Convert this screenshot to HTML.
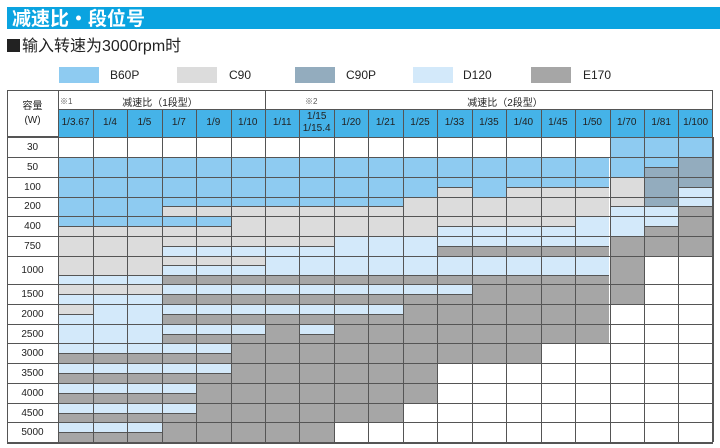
<!DOCTYPE html>
<html><head><meta charset="utf-8">
<style>
body{margin:0;width:720px;height:448px;background:#fff;position:relative;overflow:hidden;font-family:"Liberation Sans","Noto Sans CJK SC",sans-serif;}
.a{position:absolute;box-sizing:border-box;}
.t{position:absolute;font-size:10px;color:#222;text-align:center;}
</style></head><body>
<div class="a" style="left:7px;top:7px;width:713px;height:22px;background:#0aa3e0;"></div>
<div class="a" style="left:12px;top:6px;font-size:19px;font-weight:bold;color:#fff;font-family:'Noto Sans CJK SC',sans-serif;line-height:24px;">减速比・段位号</div>
<div class="a" style="left:7px;top:36px;font-size:16px;color:#222;line-height:22px;font-family:'Liberation Sans','Noto Sans CJK SC',sans-serif;"><span style="display:inline-block;width:13px;height:13px;background:#222;margin-right:2px;vertical-align:-1px"></span>输入转速为3000rpm时</div>
<div id="g"></div>
<script>
var g=document.getElementById('g'),h='';
function box(x,y,w,hh,bg,extra){h+='<div class="a" style="left:'+x+'px;top:'+y+'px;width:'+w+'px;height:'+hh+'px;background:'+bg+';'+(extra||'')+'"></div>';}
function txt(x,y,w,s,fs,extra){h+='<div class="t" style="left:'+x+'px;top:'+y+'px;width:'+w+'px;font-size:'+fs+'px;'+(extra||'')+'">'+s+'</div>';}
var C={B:'#8ecbf1',C:'#dcdcdc',P:'#93acbe',D:'#d3e9fa',E:'#a6a6a6',W:'#fff'};
var lg=[[59,'B','B60P',110],[177,'C','C90',229],[295,'P','C90P',346],[413,'D','D120',463],[531,'E','E170',583]];
lg.forEach(function(l){box(l[0],67,40,16,C[l[1]]);txt(l[3],68,50,l[2],12,'text-align:left;');});
var X0=58.3,CW=34.45;
var cols=['1/3.67','1/4','1/5','1/7','1/9','1/10','1/11','1/15<br>1/15.4','1/20','1/21','1/25','1/33','1/35','1/40','1/45','1/50','1/70','1/81','1/100'];
box(7,90,706,47,'#fff','border:1px solid #555;');
box(X0,109,713-X0,28,'#45b3e8','border-top:1px solid #555;');
for(var i=0;i<19;i++){var x=X0+i*CW;box(x,109,1,28,'#555');txt(x,cols[i].indexOf('<br>')>0?111:117,CW,cols[i],10,'line-height:12px;');}
box(X0,90,1,47,'#555');box(265.3,90,1,19,'#555');
txt(60,96,30,'※1',8,'text-align:left;color:#555;');
txt(100,94,120,'减速比（1段型）',10);
txt(305,96,30,'※2',8,'text-align:left;color:#555;');
txt(440,94,130,'减速比（2段型）',10);
txt(7,100,51,'容量<br>(W)',10,'line-height:14px;');
var rows=[['30',137,156.7],['50',156.7,176.7],['100',176.7,196.7],['200',196.7,216],['400',216,235.7],['750',235.7,255.7],['1000',255.7,284.3],['1500',284.3,304.3],['2000',304.3,324],['2500',324,343.3],['3000',343.3,363],['3500',363,383],['4000',383,402.7],['4500',402.7,422.3],['5000',422.3,442]];
function R(spec){var a=[];spec.forEach(function(s){for(var k=0;k<s[0];k++)a.push(s[1]);});return a;}
var data=[
R([[16,'W'],[3,'B']]),
R([[17,'B'],[1,'BP'],[1,'P']]),
R([[11,'B'],[1,'BC'],[1,'B'],[3,'BC'],[1,'C'],[1,'P'],[1,'PD']]),
R([[3,'B'],[7,'BC'],[6,'C'],[1,'CD'],[1,'PD'],[1,'DE']]),
R([[5,'BC'],[6,'C'],[4,'CD'],[2,'D'],[1,'DE'],[1,'E']]),
R([[3,'C'],[5,'CD'],[3,'D'],[5,'DE'],[3,'E']]),
R([[3,'CCD'],[3,'CDE'],[10,'DDE'],[1,'E'],[2,'W']]),
R([[3,'CD'],[9,'DE'],[5,'E'],[2,'W']]),
R([[1,'CD'],[2,'D'],[7,'DE'],[6,'E'],[3,'W']]),
R([[3,'D'],[3,'DE'],[1,'E'],[1,'DE'],[8,'E'],[3,'W']]),
R([[5,'DE'],[9,'E'],[5,'W']]),
R([[5,'DE'],[6,'E'],[8,'W']]),
R([[4,'DE'],[7,'E'],[8,'W']]),
R([[4,'DE'],[6,'E'],[9,'W']]),
R([[3,'DE'],[5,'E'],[11,'W']])];
rows.forEach(function(r,ri){
 var y0=r[1],y1=r[2],hh=y1-y0;
 box(7,y0,51.3,hh,'#fff');txt(7,y0+hh/2-5,51,r[0],10);
 data[ri].forEach(function(s,ci){
  var x=X0+ci*CW,n=s.length,bh=hh/n;
  for(var k=0;k<n;k++){box(x,y0+k*bh,CW,bh+0.5,C[s[k]]);}
  for(var k=1;k<n;k++){if(s[k]!=s[k-1])box(x,y0+k*bh,CW,1,'#555');}
 });
 box(7,y0,706,1,'#555');
});
box(7,442,706,1.5,'#555');
box(7,90,1,353,'#555');box(712,90,1,353,'#555');
for(var i=0;i<=19;i++){box(X0+i*CW,137,1,305,'#555');}
g.innerHTML=h;
</script>
</body></html>
